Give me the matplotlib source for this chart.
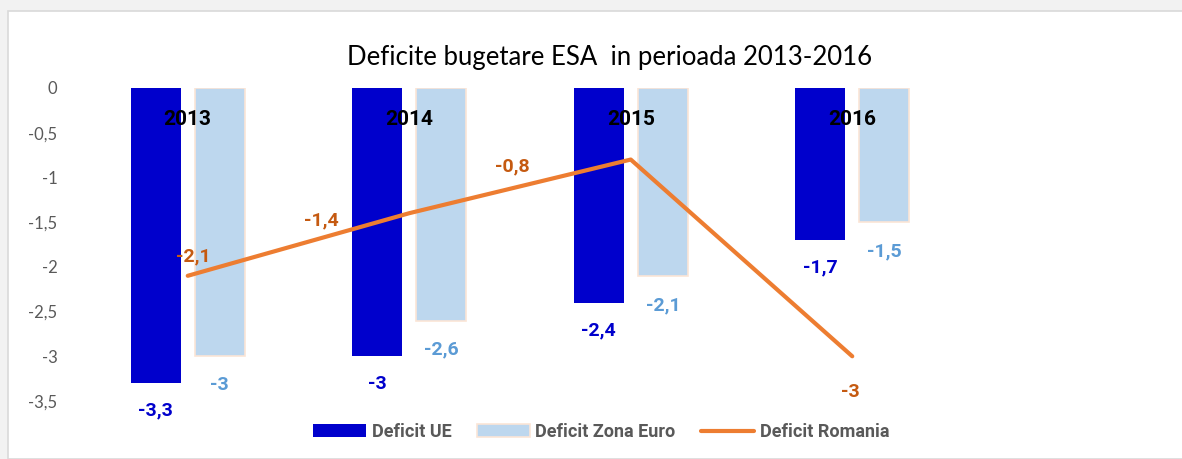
import matplotlib
matplotlib.use("Agg")
import matplotlib.pyplot as plt
from matplotlib.patches import Rectangle
import numpy as np

# --- Data ---
years = ["2013", "2014", "2015", "2016"]
deficit_ue = [-3.3, -3.0, -2.4, -1.7]
deficit_euro = [-3.0, -2.6, -2.1, -1.5]
deficit_romania = [-2.1, -1.4, -0.8, -3.0]
y_ticks = [0, -0.5, -1, -1.5, -2, -2.5, -3, -3.5]

# label offsets for the Romania line (points), set by hand like in the original sheet
ro_label_offsets = [(4, 14), (-63, -5), (-85, -5), (-1, -26)]

UE_COLOR = "#0000CC"
EURO_COLOR = "#BDD7EE"
EURO_EDGE = "#FBE5D6"
RO_COLOR = "#ED7D31"
RO_LABEL = "#C55A11"
EURO_LABEL = "#5B9BD5"
GREY = "#595959"
FONT = ["Lato", "DejaVu Sans"]
BOLD_FONT = ["Roboto", "DejaVu Sans"]


def fmt(v):
    # romanian style decimal comma, no trailing ,0
    s = f"{v:g}"
    return s.replace(".", ",")


plt.rcParams["font.family"] = FONT

fig = plt.figure(figsize=(11.82, 4.59), dpi=100)
fig.patch.set_facecolor("#F2F2F2")
fig.patches.append(Rectangle((8 / 1182, 0), 1.0, 1 - 11 / 459, transform=fig.transFigure,
                             facecolor="white", edgecolor="#D9D9D9", linewidth=1.2, zorder=-5))

ax = fig.add_axes([77 / 1182, 58 / 459, 886 / 1182, 313 / 459])
ax.set_facecolor("none")

x = np.arange(len(years))
w = 0.226
off = 0.145

b1 = ax.bar(x - off, deficit_ue, w, color=UE_COLOR, label="Deficit UE", zorder=2)
b2 = ax.bar(x + off, deficit_euro, w, color=EURO_COLOR, edgecolor=EURO_EDGE, linewidth=1.2,
            label="Deficit Zona Euro", zorder=2)
ln, = ax.plot(x, deficit_romania, color=RO_COLOR, linewidth=3, solid_capstyle="round",
              label="Deficit Romania", zorder=3)

lbl = dict(textcoords="offset points", ha="center", va="center", fontsize=14,
           fontweight="bold", family=BOLD_FONT, annotation_clip=False)

# value labels under the bars
for xi, v in zip(x - off, deficit_ue):
    ax.annotate(fmt(v), (xi, v), xytext=(0, -20), color=UE_COLOR, **lbl)
for xi, v in zip(x + off, deficit_euro):
    ax.annotate(fmt(v), (xi, v), xytext=(0, -21), color=EURO_LABEL, **lbl)
for xi, v, (dx, dy) in zip(x, deficit_romania, ro_label_offsets):
    ax.annotate(fmt(v), (xi, v), xytext=(dx, dy), color=RO_LABEL, **lbl)

# year labels inside the top of the bars
for xi, yr in zip(x, years):
    ax.text(xi, -0.35, yr, ha="center", va="center", fontsize=15, fontweight="bold",
            family=BOLD_FONT, color="black", zorder=4)

ax.set_xlim(-0.5, len(years) - 0.5)
ax.set_ylim(-3.5, 0)
ax.set_xticks([])
ax.set_yticks(y_ticks)
ax.set_yticklabels([fmt(t) for t in y_ticks])
ax.tick_params(axis="y", length=0, pad=14, labelsize=12, labelcolor=GREY)
for s in ax.spines.values():
    s.set_visible(False)

fig.text(610 / 1182, 1 - 57 / 459, "Deficite bugetare ESA  in perioada 2013-2016",
         ha="center", va="center", fontsize=18.5, color="black")

leg = fig.legend(handles=[b1, b2, ln], loc="center", bbox_to_anchor=(601 / 1182, 1 - 432 / 459),
                 ncol=3, frameon=False, handlelength=2.95, handleheight=0.75, handletextpad=0.3,
                 columnspacing=1.4, prop={"size": 13, "weight": "bold", "family": BOLD_FONT})
for t in leg.get_texts():
    t.set_color(GREY)

fig.savefig("out.png", dpi=100, facecolor=fig.get_facecolor())
